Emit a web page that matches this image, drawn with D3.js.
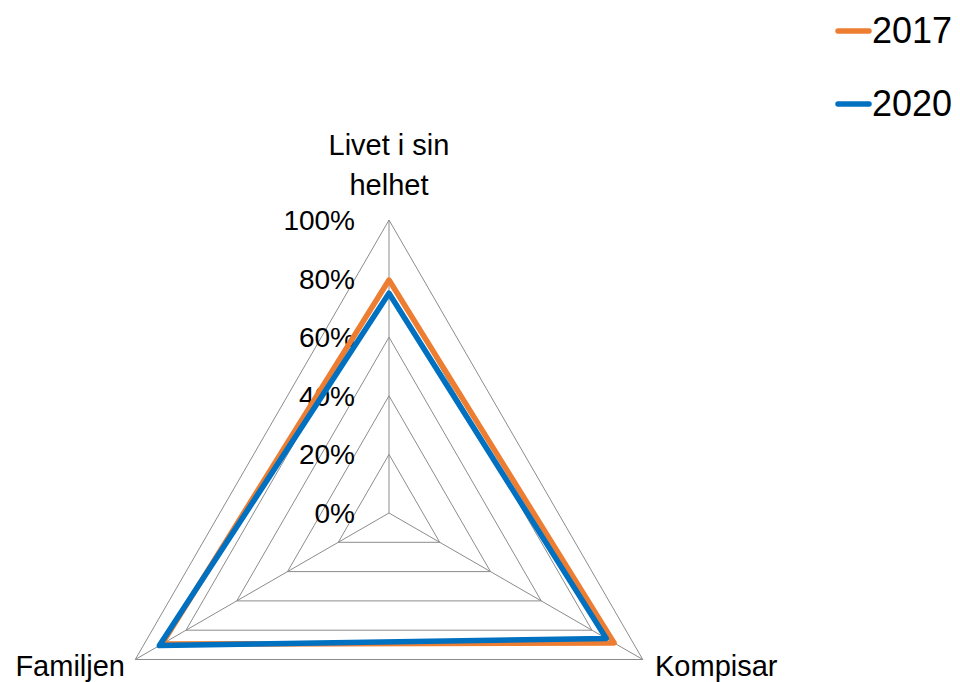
<!DOCTYPE html>
<html><head><meta charset="utf-8">
<script src="https://cdn.jsdelivr.net/npm/d3@7"></script>
<style>body{margin:0;background:#fff}svg{display:block}text{font-family:"Liberation Sans",Arial,sans-serif;fill:#000}</style>
</head><body>
<svg id="c" width="960" height="682"></svg>
<script>
const categories = ["Livet i sin helhet", "Kompisar", "Familjen"];
const categoryLines = [["Livet i sin", "helhet"], ["Kompisar"], ["Familjen"]];
const seriesNames = ["2017", "2020"];
const values2017 = [0.795, 0.887, 0.895];
const values2020 = [0.75, 0.856, 0.905];
const tickValues = [0, 0.2, 0.4, 0.6, 0.8, 1.0];
const colors = ["#ED7D31", "#0070C0"];

const svg = d3.select("#c");
const cx = 389, cy = 513, R = 293;
const r = d3.scaleLinear().domain([0, 1]).range([0, R]);
const angle = i => i * 2 * Math.PI / categories.length; // 0 = up, clockwise
const pt = (i, v) => [cx + r(v) * Math.sin(angle(i)), cy - r(v) * Math.cos(angle(i))];

const g = svg.append("g");
// rings
tickValues.forEach(t => {
  if (t === 0) return;
  g.append("polygon")
    .attr("points", categories.map((c, i) => pt(i, t).join(",")).join(" "))
    .attr("fill", "none").attr("stroke", "#8c8c8c").attr("stroke-width", 1);
});
// spokes
categories.forEach((c, i) => {
  const p = pt(i, 1);
  g.append("line").attr("x1", cx).attr("y1", cy).attr("x2", p[0]).attr("y2", p[1])
    .attr("stroke", "#8c8c8c").attr("stroke-width", 1);
});
// tick labels
const fmt = d3.format(".0%");
tickValues.forEach(t => {
  g.append("text").attr("x", cx - 34).attr("y", cy - r(t) + 10)
    .attr("text-anchor", "end").attr("font-size", 28).text(fmt(t));
});
// series
const line = d3.line().curve(d3.curveLinearClosed);
[values2017, values2020].forEach((vals, s) => {
  g.append("path").attr("d", line(vals.map((v, i) => pt(i, v))))
    .attr("fill", "none").attr("stroke", colors[s]).attr("stroke-width", 5.5)
    .attr("stroke-linejoin", "round");
});
// category labels
const labelPos = [
  {x: cx, y: 155, anchor: "middle"},
  {x: 655, y: 676, anchor: "start"},
  {x: 125, y: 676, anchor: "end"}
];
categoryLines.forEach((lines, i) => {
  const lp = labelPos[i];
  const t = g.append("text").attr("text-anchor", lp.anchor).attr("font-size", 29);
  lines.forEach((l, k) => t.append("tspan").attr("x", lp.x).attr("y", lp.y + k * 40).text(l));
});
// legend
seriesNames.forEach((n, s) => {
  const y = 31 + s * 73;
  svg.append("line").attr("x1", 838).attr("x2", 869).attr("y1", y).attr("y2", y)
    .attr("stroke", colors[s]).attr("stroke-width", 5.5).attr("stroke-linecap", "round");
  svg.append("text").attr("x", 872).attr("y", y + 12).attr("font-size", 36).text(n);
});
</script>
</body></html>
